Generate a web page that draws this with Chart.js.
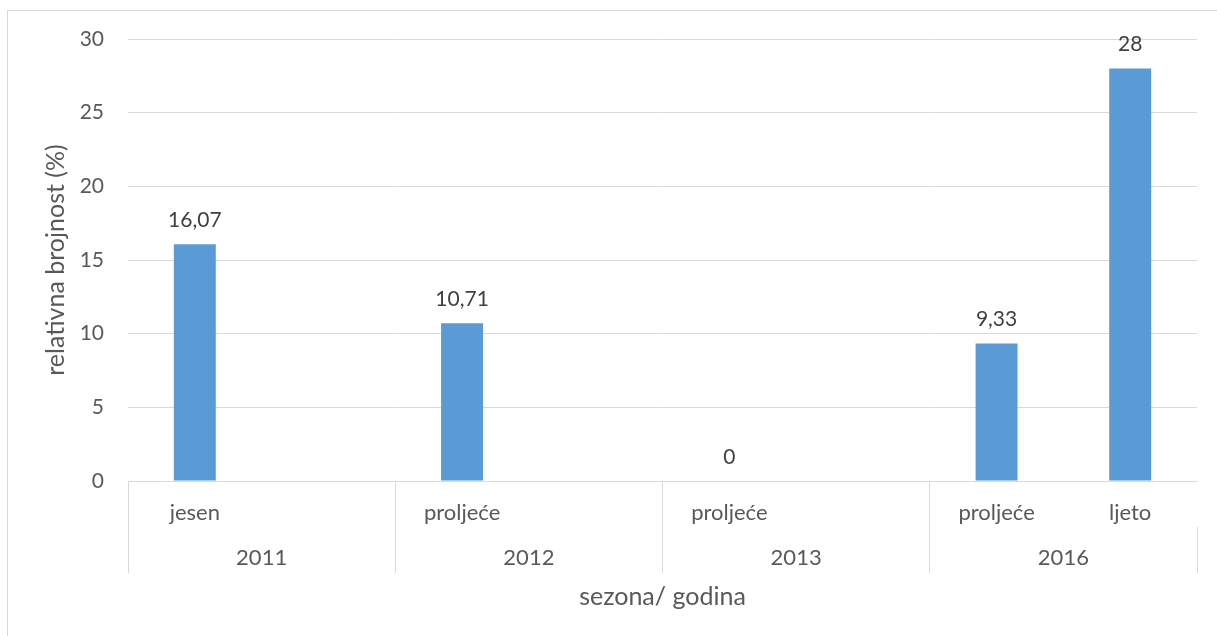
<!DOCTYPE html>
<html>
<head>
<meta charset="utf-8">
<script src="https://cdn.jsdelivr.net/npm/chart.js@4/dist/chart.umd.min.js"></script>
<style>
  body { margin: 0; background: #fff; overflow: hidden; }
  #wrap { position: relative; width: 1217px; height: 636px; }
  #frame { position: absolute; left: 7px; top: 10px; width: 1230px; height: 650px; border: 1px solid #d9d9d9; }
  canvas { position: absolute; left: 0; top: 0; }
</style>
</head>
<body>
<div id="wrap">
  <div id="frame"></div>
  <canvas id="chart" width="1217" height="636"></canvas>
</div>
<script>
// sezone (donja razina), prazni slotovi tamo gdje nema druge sezone
const seasons = ['jesen', '', 'proljeće', '', 'proljeće', '', 'proljeće', 'ljeto'];
const years = ['2011', '2012', '2013', '2016'];
const values = [16.07, null, 10.71, null, 0, null, 9.33, 28];
const yTicks = [0, 5, 10, 15, 20, 25, 30];

const textColor = '#595959';
const gridColor = '#d9d9d9';
const tickFont = { family: 'Lato', size: 21 };
const catFont = { family: 'Lato', size: 22 };
const titleFont = { family: 'Lato', size: 25 };

// oznake vrijednosti iznad stupaca
const valueLabels = {
  id: 'valueLabels',
  afterDatasetsDraw(chart) {
    const ctx = chart.ctx;
    const meta = chart.getDatasetMeta(0);
    ctx.save();
    ctx.font = '21px Lato';
    ctx.fillStyle = '#404040';
    ctx.textAlign = 'center';
    ctx.textBaseline = 'middle';
    meta.data.forEach((bar, i) => {
      const v = values[i];
      if (v === null) return;
      ctx.fillText(String(v).replace('.', ','), bar.x, bar.y - 24);
    });
    ctx.restore();
  }
};

new Chart(document.getElementById('chart'), {
  type: 'bar',
  data: {
    labels: seasons,
    datasets: [{
      data: values,
      backgroundColor: '#5b9bd5',
      categoryPercentage: 1,
      barPercentage: 0.314
    }]
  },
  options: {
    responsive: false,
    animation: false,
    layout: { padding: { top: 39, right: 20, left: 0, bottom: 0 } },
    plugins: { legend: { display: false }, tooltip: { enabled: false } },
    scales: {
      y: {
        min: 0,
        max: 30,
        afterFit: s => { s.width = 128; },
        afterBuildTicks: s => { s.ticks = yTicks.map(v => ({ value: v })); },
        grid: { color: gridColor, drawTicks: false },
        border: { display: false },
        ticks: { color: textColor, font: tickFont, padding: 24 },
        title: {
          display: true,
          text: 'relativna brojnost (%)',
          color: textColor,
          font: titleFont,
          padding: { top: 41, bottom: 0 }
        }
      },
      x: {
        afterFit: s => { s.height = 46; },
        grid: {
          offset: true,
          drawOnChartArea: false,
          tickLength: 46,
          color: c => (c.index % 2 === 0 ? gridColor : 'rgba(0,0,0,0)')
        },
        border: { color: gridColor },
        ticks: { color: textColor, font: catFont, padding: -27, autoSkip: false, maxRotation: 0 }
      },
      x2: {
        type: 'category',
        position: 'bottom',
        labels: years,
        offset: true,
        afterFit: s => { s.height = 109; },
        grid: { offset: true, drawOnChartArea: false, tickLength: 46, color: gridColor },
        border: { display: false },
        ticks: { color: textColor, font: catFont, padding: -28, autoSkip: false, maxRotation: 0 },
        title: {
          display: true,
          text: 'sezona/ godina',
          color: textColor,
          font: titleFont,
          padding: { top: 0, bottom: 24 }
        }
      }
    }
  },
  plugins: [valueLabels]
});
</script>
</body>
</html>
